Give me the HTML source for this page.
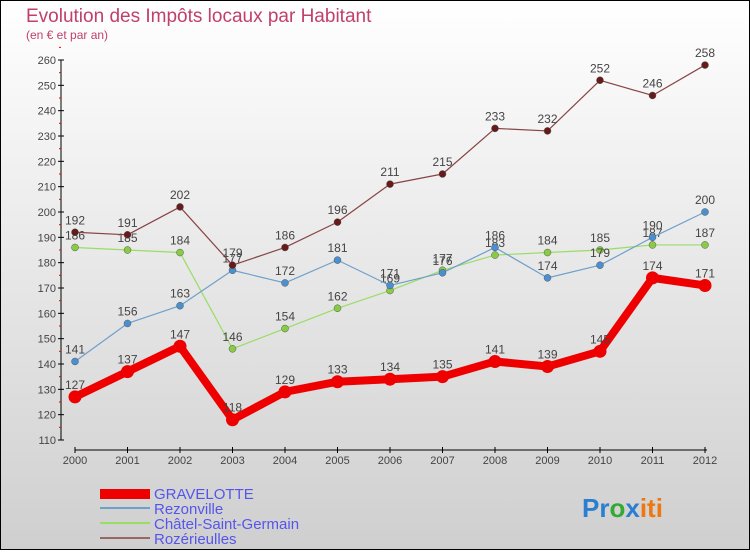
<!DOCTYPE html>
<html><head><meta charset="utf-8"><style>
html,body{margin:0;padding:0}
body{width:750px;height:550px;overflow:hidden;font-family:"Liberation Sans",sans-serif}
</style></head><body>
<svg width="750" height="550" xmlns="http://www.w3.org/2000/svg">
<defs><linearGradient id="bg" x1="0" y1="0" x2="0" y2="1"><stop offset="0" stop-color="#ffffff"/><stop offset="1" stop-color="#cfcfcf"/></linearGradient></defs>
<rect x="0.5" y="0.5" width="749" height="549" fill="url(#bg)" stroke="#000"/>
<text x="26" y="22" font-size="19" fill="#c0406a">Evolution des Impôts locaux par Habitant</text>
<text x="26" y="39" font-size="12" fill="#c0406a">(en € et par an)</text>
<g id="axes"></g>
<g id="series"></g>
<g>
<rect x="100" y="489" width="50" height="10" fill="#e00"/>
<text x="154" y="499" font-size="15" fill="#5555ee">GRAVELOTTE</text>
<line x1="100" y1="508" x2="150" y2="508" stroke="#6ea0cc" stroke-width="2"/>
<text x="154" y="514" font-size="15" fill="#5555ee">Rezonville</text>
<line x1="100" y1="523" x2="150" y2="523" stroke="#99dd66" stroke-width="2"/>
<text x="154" y="529" font-size="15" fill="#5555ee">Châtel-Saint-Germain</text>
<line x1="100" y1="538" x2="150" y2="538" stroke="#996666" stroke-width="2"/>
<text x="154" y="544" font-size="15" fill="#5555ee">Rozérieulles</text>
</g>
<text x="582" y="517" font-size="26" font-weight="bold"><tspan fill="#2a7fd0">Pr</tspan><tspan fill="#33aa33">o</tspan><tspan fill="#2a7fd0">x</tspan><tspan fill="#ee7711">iti</tspan></text>
</svg>
<script>
const years=[2000,2001,2002,2003,2004,2005,2006,2007,2008,2009,2010,2011,2012];
const yTicks=[110,120,130,140,150,160,170,180,190,200,210,220,230,240,250,260];
const gravelotte=[127,137,147,118,129,133,134,135,141,139,145,174,171];
const rezonville=[141,156,163,177,172,181,171,176,186,174,179,190,200];
const chatel=[186,185,184,146,154,162,169,177,183,184,185,187,187];
const rozerieulles=[192,191,202,179,186,196,211,215,233,232,252,246,258];
const NS="http://www.w3.org/2000/svg";
const xS=i=>75+i*52.5;
const yS=v=>440-(v-110)*(380/150);
function mk(tag,attrs,parent){const e=document.createElementNS(NS,tag);for(const k in attrs)e.setAttribute(k,attrs[k]);parent.appendChild(e);return e;}
const ax=document.getElementById('axes');
let l=mk('line',{x1:61,y1:yS(260),x2:61,y2:yS(110),stroke:'#000'},ax);


yTicks.forEach(v=>{
 mk('line',{x1:58,y1:yS(v),x2:64,y2:yS(v),stroke:'#000'},ax);
 mk('line',{x1:59,y1:yS(v+5),x2:61,y2:yS(v+5),stroke:'#e00'},ax);
 const t=mk('text',{x:56,y:yS(v)+4,'font-size':11,fill:'#444','text-anchor':'end'},ax);
 t.textContent=v;
 
 
});
l=mk('line',{x1:75,y1:450,x2:707,y2:450,stroke:'#000'},ax);


years.forEach((y,i)=>{
 mk('line',{x1:xS(i),y1:447,x2:xS(i),y2:453,stroke:'#000'},ax);
 const t=mk('text',{x:xS(i),y:464,'font-size':11,fill:'#444','text-anchor':'middle'},ax);
 t.textContent=y;
 
 
});
const sg=document.getElementById('series');
function series(data,name,color,dot,w,r,labels,fs){
 const g=mk('g',{},sg);
 
 
 const p=mk('polyline',{points:data.map((v,i)=>xS(i)+','+yS(v)).join(' '),fill:'none',stroke:color,'stroke-width':w,'stroke-linejoin':'round'},g);
 
 
 data.forEach((v,i)=>{
  const c=mk('circle',{cx:xS(i),cy:yS(v),r:r,fill:dot,stroke:w>3?'none':'#555','stroke-width':0.5},g);
  
  
  if(labels){const t=mk('text',{x:xS(i),y:yS(v)-8,'font-size':fs,fill:'#444','text-anchor':'middle'},g);
  t.textContent=v;
  
  }
 });
}
series(chatel,'chatel','#99dd66','#88cc44',1.2,3.5,true,12);
series(rezonville,'rezonville','#6ea0cc','#4a90d0',1.2,3.5,true,12);
series(rozerieulles,'rozerieulles','#884444','#661a1a',1.2,3.5,true,12);
series(gravelotte,'gravelotte','#ee0000','#ee0000',8,6.5,true,12);
</script>
</body></html>
